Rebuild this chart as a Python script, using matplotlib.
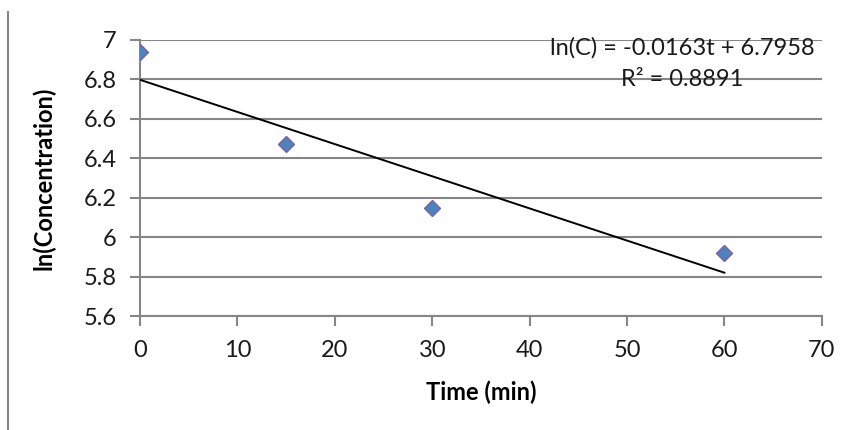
import numpy as np
import matplotlib.pyplot as plt
from matplotlib.lines import Line2D

plt.rcParams['font.family'] = ['Lato', 'DejaVu Sans']

time_min = [0, 15, 30, 60]
ln_conc = [6.94, 6.47, 6.15, 5.92]
x_ticks = [0, 10, 20, 30, 40, 50, 60, 70]
y_ticks = [5.6, 5.8, 6.0, 6.2, 6.4, 6.6, 6.8, 7.0]
y_tick_labels = ['5.6', '5.8', '6', '6.2', '6.4', '6.6', '6.8', '7']
eq_line1 = 'ln(C) = -0.0163t + 6.7958'
eq_line2 = 'R² = 0.8891'

grid_col = '#868686'
fs = 17

fig = plt.figure(figsize=(8.49, 4.30), dpi=100)
ax = fig.add_axes([0.165, 0.265, 0.803, 0.642])

# linear trendline from the data
slope, icpt = np.polyfit(time_min, ln_conc, 1)
fit_x = np.array([min(time_min), max(time_min)])
ax.plot(fit_x, slope * fit_x + icpt, color='black', lw=1.4, zorder=3)

ax.plot(time_min, ln_conc, linestyle='none', marker='D', markersize=8,
        markerfacecolor='#4F81BD', markeredgecolor='#7D60A0',
        markeredgewidth=1, zorder=4)

ax.set_xlim(0, 70)
ax.set_ylim(5.6, 7.0)
ax.set_xticks(x_ticks)
ax.set_yticks(y_ticks)
ax.set_xticklabels([str(v) for v in x_ticks])
ax.set_yticklabels(y_tick_labels)
ax.grid(axis='y', color=grid_col, lw=1.5)
ax.set_axisbelow(True)

for s in ['top', 'right']:
    ax.spines[s].set_visible(False)
for s in ['left', 'bottom']:
    ax.spines[s].set_color(grid_col)
    ax.spines[s].set_linewidth(1.5)
ax.tick_params(axis='both', colors=grid_col, width=1.5, length=7,
               labelsize=fs, labelcolor='#1a1a1a')
ax.tick_params(axis='x', pad=10)
ax.tick_params(axis='y', pad=10)

ax.set_xlabel('Time (min)', fontsize=fs, fontweight='bold', labelpad=14)
ax.set_ylabel('ln(Concentration)', fontsize=fs, fontweight='bold', labelpad=20)

fig.text(682 / 849, 1 - 48 / 430, eq_line1,
         ha='center', va='center', fontsize=fs, color='#1a1a1a')
fig.text(682 / 849, 1 - 80 / 430, eq_line2,
         ha='center', va='center', fontsize=fs, color='#1a1a1a')

fig.add_artist(Line2D([8 / 849, 8 / 849], [0, 1 - 12 / 430],
                      color=grid_col, lw=1.5))

fig.savefig('out.png', dpi=100)
